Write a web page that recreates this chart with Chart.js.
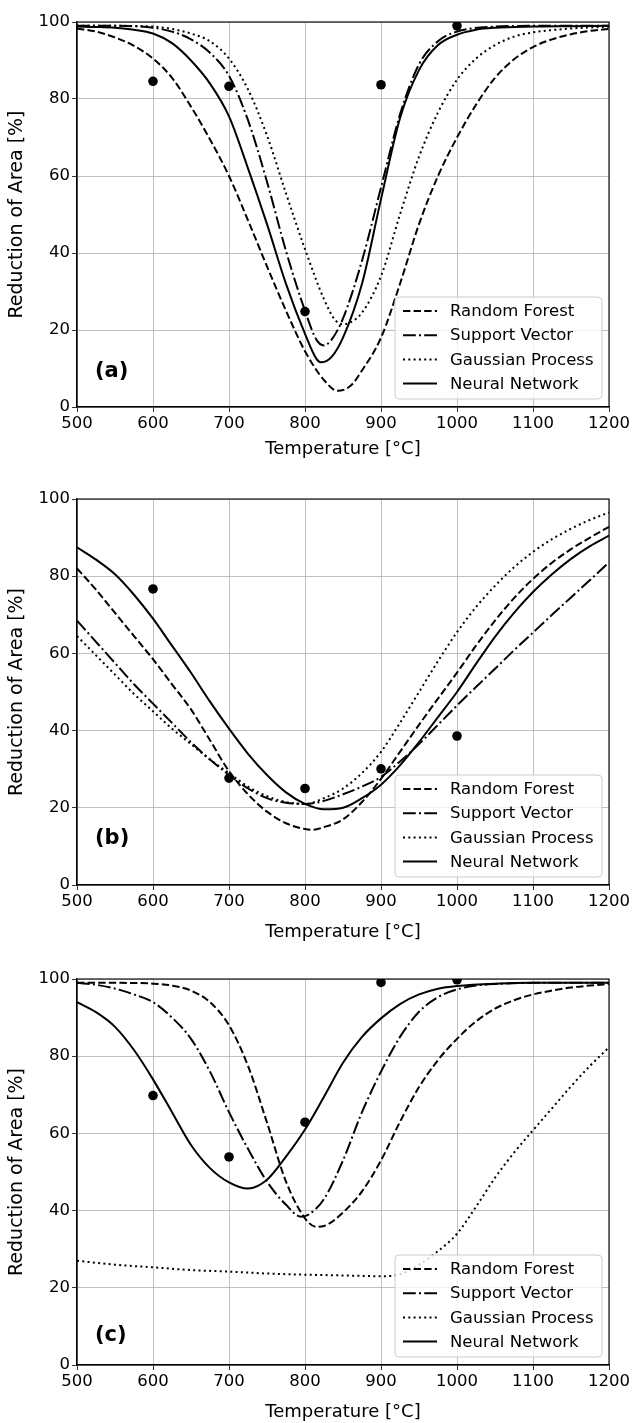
<!DOCTYPE html>
<html>
<head>
<meta charset="utf-8">
<script src="https://cdn.jsdelivr.net/npm/chart.js@4.4.1/dist/chart.umd.min.js"></script>
<style>
  body { margin: 0; background: #fff; width: 634px; height: 1423px; position: relative; overflow: hidden; }
  .panel { position: absolute; left: 0; width: 634px; }
</style>
</head>
<body>
<div class="panel" style="top:0;height:460px"><canvas id="chart-a"></canvas></div>
<div class="panel" style="top:470px;height:473px"><canvas id="chart-b"></canvas></div>
<div class="panel" style="top:945px;height:478px"><canvas id="chart-c"></canvas></div>
<script>
/* Reduction of area vs. temperature, three model comparisons (a), (b), (c). */

const X_TICKS = [500, 600, 700, 800, 900, 1000, 1100, 1200];
const Y_TICKS = [0, 20, 40, 60, 80, 100];
const MODEL_NAMES = ['Random Forest', 'Support Vector', 'Gaussian Process', 'Neural Network'];

// ── (a) ──
const rfA = [[500,98.3],[525,97.5],[550,96],[575,93.8],[600,90.5],[625,85.5],[650,78],[675,69.5],[700,60],[725,48.5],[750,36.5],[775,25],[800,14.5],[825,7],[843,4.2],[860,5.5],[875,9.5],[900,18],[925,32],[950,47.5],[975,60],[1000,70],[1025,78.5],[1050,85.5],[1075,90.3],[1100,93.5],[1125,95.5],[1150,96.8],[1175,97.7],[1200,98.2]];
const svA = [[500,99],[550,99],[600,98.5],[625,97.5],[650,95.5],[675,92],[700,86],[725,74.5],[750,58.5],[775,40.5],[800,25],[815,17.5],[825,16],[835,17.5],[850,23],[875,38],[900,57],[925,76],[950,89],[975,95],[1000,97.5],[1050,98.8],[1100,99],[1200,99]];
const gpA = [[500,99],[550,99],[600,98.8],[625,98.2],[650,97],[675,95],[700,90.5],[725,82.5],[750,70.5],[775,55.5],[800,41],[825,28],[840,22.5],[850,21.5],[860,22],[875,24.5],[900,34],[925,50],[950,65],[975,76.5],[1000,85],[1025,90.5],[1050,94],[1075,96.2],[1100,97.3],[1150,98.3],[1200,98.8]];
const nnA = [[500,98.8],[525,98.7],[550,98.5],[575,98],[600,97],[625,94.5],[650,90],[675,84],[700,75.5],[725,62],[750,47.5],[775,32],[800,19],[815,12.5],[822,11.6],[835,13],[850,18],[875,32],[900,54],[925,75],[950,87.5],[975,94],[1000,96.7],[1025,98],[1050,98.5],[1100,98.8],[1150,98.9],[1200,99]];
const obsA = [[600,84.6],[700,83.3],[800,24.8],[900,83.7],[1000,99]];

// ── (b) ──
const rfB = [[500,82],[525,76.5],[550,70.5],[575,64.5],[600,58.5],[625,52],[650,45.5],[675,37.5],[700,29.5],[725,23.5],[750,19],[775,16],[800,14.5],[810,14.3],[825,15],[850,17],[875,21.5],[900,27.5],[925,34.5],[950,41.5],[975,48.3],[1000,55],[1025,62],[1050,68.5],[1075,74.3],[1100,79.3],[1125,83.5],[1150,87],[1175,90],[1200,92.8]];
const svB = [[500,68.5],[525,63],[550,57.5],[575,52],[600,47],[625,42],[650,37],[675,32.5],[700,28.5],[725,25],[750,22.5],[775,21.3],[800,21],[825,21.8],[850,23.5],[875,25.5],[900,28],[925,32],[950,36.5],[975,41.5],[1000,46.5],[1025,51.3],[1050,56],[1075,60.8],[1100,65.4],[1125,70],[1150,74.5],[1175,79],[1200,83.6]];
const gpB = [[500,64.5],[525,59.5],[550,54.5],[575,49.5],[600,45],[625,40.5],[650,36.5],[675,32.5],[700,29],[725,25.5],[750,23],[775,21.5],[800,21],[825,22.5],[850,25],[875,29],[900,34.5],[925,42],[950,50],[975,58],[1000,65.5],[1025,72],[1050,77.5],[1075,82.3],[1100,86.3],[1125,89.6],[1150,92.3],[1175,94.6],[1200,96.5]];
const nnB = [[500,87.5],[525,84.3],[550,80.5],[575,75.2],[600,69],[625,62],[650,55],[675,47.5],[700,40.5],[725,34],[750,28.5],[775,24],[800,21],[825,19.6],[850,20],[875,22.5],[900,26],[925,31],[950,37],[975,43.5],[1000,50],[1025,57.3],[1050,64.3],[1075,70.5],[1100,75.9],[1125,80.5],[1150,84.5],[1175,87.8],[1200,90.5]];
const obsB = [[600,76.7],[700,27.7],[800,25],[900,30.1],[1000,38.6]];

// ── (c) ──
const rfC = [[500,99],[550,99],[600,98.8],[625,98.3],[650,97],[675,94],[700,88],[725,77.5],[750,62.8],[775,47.5],[800,38],[815,35.8],[825,36],[850,39.5],[875,45],[900,53],[925,63],[950,72],[975,79],[1000,84.5],[1025,89],[1050,92.3],[1075,94.5],[1100,96],[1125,97],[1150,97.8],[1175,98.3],[1200,98.7]];
const svC = [[500,99],[525,98.5],[550,97.5],[575,96],[600,94],[625,90],[650,84.5],[675,76],[700,65.5],[725,56],[750,47.5],[775,41.5],[795,38.4],[805,39],[825,43],[850,53],[875,65.5],[900,76],[925,85],[950,91.5],[975,95.3],[1000,97.3],[1025,98.3],[1050,98.7],[1100,99],[1200,99]];
const gpC = [[500,27],[550,26],[600,25.3],[650,24.6],[700,24.2],[750,23.7],[800,23.4],[850,23.2],[900,23],[925,23.5],[950,26],[975,29.5],[1000,34],[1025,41],[1050,48.5],[1075,55],[1100,60.8],[1125,66.5],[1150,72.2],[1175,77.5],[1200,82.3]];
const nnC = [[500,94],[525,91.4],[550,87.6],[575,81.6],[600,74],[625,65.5],[650,57],[675,51],[700,47.3],[725,45.7],[750,48],[775,54],[800,61],[825,69.5],[850,78.3],[875,85],[900,89.8],[925,93.5],[950,96],[975,97.5],[1000,98.2],[1050,98.8],[1100,99],[1200,99]];
const obsC = [[600,69.8],[700,53.9],[800,62.9],[900,99.1],[1000,99.8]];

const FONT = "'DejaVu Sans', sans-serif";
const DASHES = [[7.4, 3.2], [12.8, 3.2, 2, 3.2], [2, 3.3], []];

// in-axes legend + panel tag + full frame, matplotlib style
const axesExtras = {
  id: 'axesExtras',
  afterDatasetsDraw(chart) {
    const { ctx, chartArea: a } = chart;
    ctx.save();
    ctx.strokeStyle = '#000';
    ctx.lineWidth = 1.1;
    ctx.strokeRect(a.left, a.top, a.right - a.left, a.bottom - a.top);
    ctx.restore();
  },
  afterDraw(chart, args, opts) {
    const { ctx, chartArea: a } = chart;
    ctx.save();
    // panel tag
    ctx.fillStyle = '#000';
    ctx.font = `bold 21px ${FONT}`;
    ctx.textAlign = 'left';
    ctx.textBaseline = 'middle';
    ctx.fillText(opts.tag, a.left + 18, a.bottom - opts.tagOffset);

    // legend box, lower right
    const w = 207, h = 102;
    const x0 = a.right - 7 - w, y0 = a.bottom - 8 - h;
    ctx.beginPath();
    ctx.roundRect(x0, y0, w, h, 4);
    ctx.fillStyle = 'rgba(255,255,255,0.8)';
    ctx.fill();
    ctx.strokeStyle = '#cccccc';
    ctx.lineWidth = 1;
    ctx.stroke();
    ctx.font = `16.5px ${FONT}`;
    chart.data.datasets.filter(d => d.label).forEach((d, i) => {
      const y = y0 + 14 + i * 24.2;
      ctx.beginPath();
      ctx.setLineDash(d.borderDash || []);
      ctx.strokeStyle = '#000';
      ctx.lineWidth = 2;
      ctx.moveTo(x0 + 8, y);
      ctx.lineTo(x0 + 42, y);
      ctx.stroke();
      ctx.setLineDash([]);
      ctx.fillStyle = '#000';
      ctx.fillText(d.label, x0 + 55, y + 1);
    });
    ctx.restore();
  },
};

function makePanel(id, series, obs, o) {
  const datasets = series.map((s, i) => ({
    label: MODEL_NAMES[i],
    data: s,
    borderColor: '#000',
    borderWidth: 2,
    borderDash: DASHES[i],
    borderCapStyle: 'butt',
    pointRadius: 0,
    fill: false,
    cubicInterpolationMode: 'monotone',
  }));
  datasets.push({
    data: obs,
    showLine: false,
    pointRadius: 4.8,
    pointBackgroundColor: '#000',
    pointBorderWidth: 0,
  });
  return new Chart(document.getElementById(id), {
    type: 'line',
    data: { datasets },
    plugins: [axesExtras],
    options: {
      responsive: true, maintainAspectRatio: false, animation: false,
      layout: { padding: { top: o.top, right: 25, left: 0, bottom: 0 } },
      plugins: {
        legend: { display: false }, tooltip: { enabled: false },
        axesExtras: { tag: o.tag, tagOffset: o.tagOffset },
      },
      scales: {
        x: {
          type: 'linear', min: 500, max: 1200,
          afterBuildTicks: ax => { ax.ticks = X_TICKS.map(v => ({ value: v })); },
          afterFit: ax => { ax.height = o.xh; },
          grid: { color: '#b0b0b0', lineWidth: 0.8, tickColor: '#000', tickLength: 5 },
          border: { color: '#000', width: 1.1 },
          ticks: { color: '#000', padding: 2, maxRotation: 0, callback: v => String(v), font: { family: FONT, size: 16.5 } },
          title: { display: true, text: 'Temperature [°C]', color: '#000', padding: 0, font: { family: FONT, size: 18 } },
        },
        y: {
          min: 0, max: 100,
          afterBuildTicks: ax => { ax.ticks = Y_TICKS.map(v => ({ value: v })); },
          afterFit: ax => { ax.width = 77; },
          grid: { color: '#b0b0b0', lineWidth: 0.8, tickColor: '#000', tickLength: 5 },
          border: { color: '#000', width: 1.1 },
          ticks: { color: '#000', padding: 2, callback: v => String(v), font: { family: FONT, size: 16.5 } },
          title: { display: true, text: 'Reduction of Area [%]', color: '#000', padding: { top: 6, bottom: 0 }, font: { family: FONT, size: 19 } },
        },
      },
    },
  });
}

makePanel('chart-a', [rfA, svA, gpA, nnA], obsA, { top: 22, xh: 53, tag: '(a)', tagOffset: 35 });
makePanel('chart-b', [rfB, svB, gpB, nnB], obsB, { top: 29, xh: 58, tag: '(b)', tagOffset: 46 });
makePanel('chart-c', [rfC, svC, gpC, nnC], obsC, { top: 34, xh: 58, tag: '(c)', tagOffset: 29 });
</script>
</body>
</html>
